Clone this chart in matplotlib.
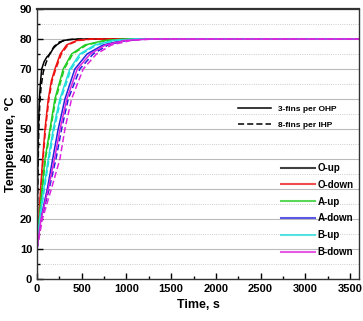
import matplotlib
matplotlib.use('Agg')

import matplotlib.pyplot as plt
from matplotlib.lines import Line2D
from matplotlib.ticker import MultipleLocator

plt.rcParams['font.family'] = ['Liberation Sans', 'DejaVu Sans']
plt.rcParams['font.weight'] = 'bold'

# Series: time (s) and temperature (degC)
temps = [10, 20, 30, 40, 50, 60, 70, 75, 78, 79.5, 80, 80]

oUpT = [0, 5, 10, 15, 26, 40, 52, 80, 110, 145, 180, 219, 293, 400, 600, 3600]
oUpY = [10, 25, 40, 50, 60, 66, 70, 72.5, 74, 75, 76.8, 78, 79.5, 79.9, 80, 80]
oUp8T = [0, 8, 20, 30, 45, 70, 100, 140, 190, 250, 350, 500, 3600]
oUp8Y = [10, 30, 50, 58, 64, 69, 72, 75, 77.5, 79, 79.8, 80, 80]

oDownT = [0, 20, 40, 63, 89, 126, 160, 200, 260, 330, 442, 600, 3600]
oDownY = [10, 20, 30, 40, 50, 60, 66, 70, 75, 78, 79.5, 80, 80]
oDown8T = [0, 22, 44, 68, 95, 133, 168, 210, 272, 345, 460, 630, 3600]

aUpT = [0, 25, 55, 89, 145, 200, 293, 386, 535, 750, 1000, 3600]
aUp8T = [0, 28, 60, 95, 152, 210, 305, 400, 555, 775, 1030, 3600]
aDownT = [0, 40, 115, 175, 237, 312, 423, 560, 737, 950, 1200, 3600]
aDown8T = [0, 50, 135, 212, 275, 349, 479, 627, 793, 1000, 1250, 3600]
bUpT = [0, 30, 75, 126, 182, 256, 367, 479, 646, 850, 1100, 3600]
bUp8T = [0, 33, 82, 135, 192, 268, 382, 497, 668, 875, 1130, 3600]
bDownT = [0, 45, 125, 195, 258, 333, 450, 595, 765, 980, 1230, 3600]
bDown8T = [0, 60, 160, 256, 312, 386, 516, 665, 832, 1050, 1300, 3600]

labels = ['O-up', 'O-down', 'A-up', 'A-down', 'B-up', 'B-down']
colors = ['black', '#ee1111', '#22cc22', '#2222dd', '#22dddd', '#dd22dd']

fig = plt.figure(figsize=(3.63, 3.21), dpi=100)
ax = fig.add_axes([0.102, 0.131, 0.887, 0.841])

# Solid: 3-fins per OHP, dashed: 8-fins per IHP
dash = (0, (4, 2))
ax.plot(oUpT, oUpY, color=colors[0], lw=1.1)
ax.plot(oUp8T, oUp8Y, color=colors[0], lw=1.1, ls=dash)
ax.plot(oDownT, oDownY, color=colors[1], lw=1.1)
ax.plot(oDown8T, oDownY, color=colors[1], lw=1.1, ls=dash)
ax.plot(aUpT, temps, color=colors[2], lw=1.1)
ax.plot(aUp8T, temps, color=colors[2], lw=1.1, ls=dash)
ax.plot(aDownT, temps, color=colors[3], lw=1.1)
ax.plot(aDown8T, temps, color=colors[3], lw=1.1, ls=dash)
ax.plot(bUpT, temps, color=colors[4], lw=1.1)
ax.plot(bUp8T, temps, color=colors[4], lw=1.1, ls=dash)
ax.plot(bDownT, temps, color=colors[5], lw=1.1)
ax.plot(bDown8T, temps, color=colors[5], lw=1.1, ls=dash)

ax.set_xlim(0, 3600)
ax.set_ylim(0, 90)
ax.xaxis.set_major_locator(MultipleLocator(500))
ax.xaxis.set_minor_locator(MultipleLocator(250))
ax.yaxis.set_major_locator(MultipleLocator(10))
ax.yaxis.set_minor_locator(MultipleLocator(5))
ax.tick_params(which='both', direction='in', labelsize=8, width=1)
ax.tick_params(which='major', length=4)
ax.tick_params(which='minor', length=2)
for lab in ax.get_xticklabels() + ax.get_yticklabels():
    lab.set_fontweight('bold')

ax.grid(axis='y', which='major', color='#bbbbbb', lw=0.8)
ax.grid(axis='y', which='minor', color='#bbbbbb', lw=0.6, ls=':')
ax.set_axisbelow(True)
for s in ax.spines.values():
    s.set_color('#333333')
    s.set_linewidth(1.0)
ax.spines['top'].set_linewidth(1.6)

ax.set_xlabel('Time, s', fontsize=9, fontweight='bold', labelpad=4)
ax.set_ylabel('Temperature, \u00b0C', fontsize=9, fontweight='bold', labelpad=2)

# Legend for line style
styleHandles = [Line2D([], [], color='black', lw=1.1),
                Line2D([], [], color='black', lw=1.1, ls=dash)]
leg1 = ax.legend(styleHandles, ['3-fins per OHP', '8-fins per IHP'],
                 loc='upper left', bbox_to_anchor=(0.6, 0.67), frameon=False,
                 prop={'size': 6, 'weight': 'bold'}, handlelength=4,
                 labelspacing=0.9)
ax.add_artist(leg1)

colorHandles = [Line2D([], [], color=c, lw=1.5, alpha=0.75) for c in colors]
ax.legend(colorHandles, labels, loc='upper left', bbox_to_anchor=(0.73, 0.462),
          frameon=False, prop={'size': 7, 'weight': 'bold'},
          handlelength=3.5, handletextpad=0.3, labelspacing=0.7)

plt.savefig('out.png', dpi=100)
